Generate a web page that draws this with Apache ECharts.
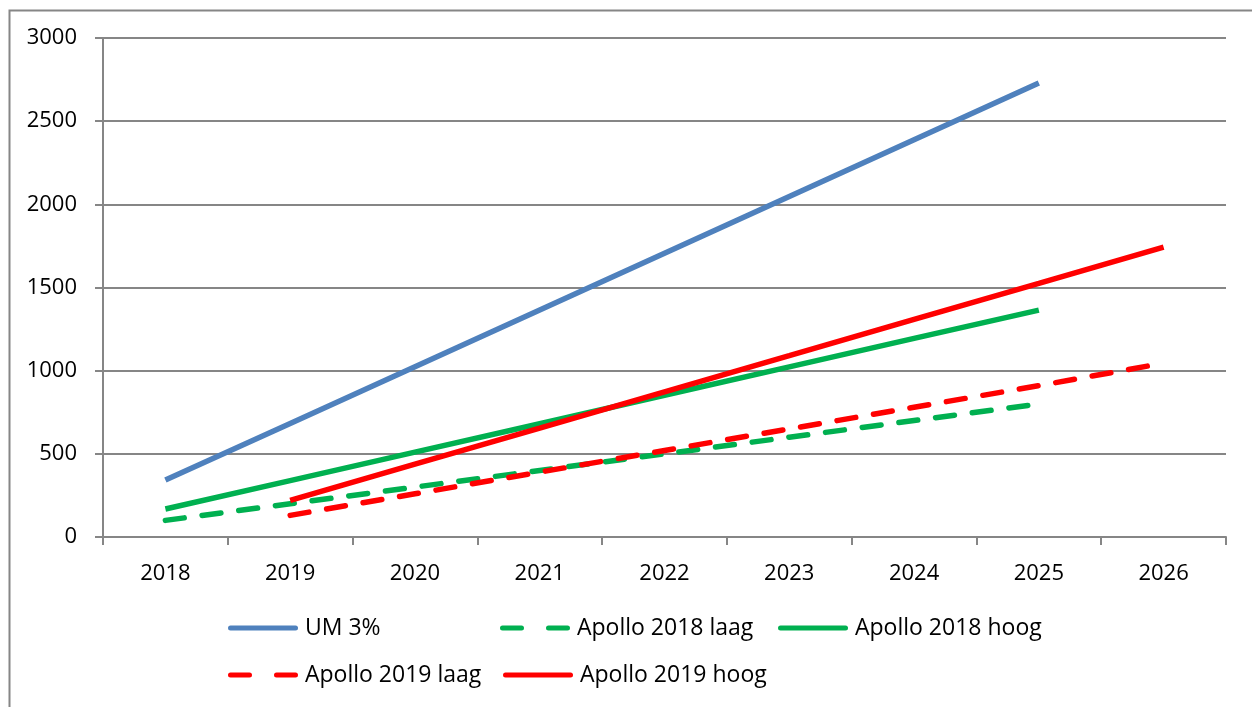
<!DOCTYPE html>
<html>
<head>
<meta charset="utf-8">
<script src="https://cdn.jsdelivr.net/npm/echarts@6/dist/echarts.min.js"></script>
<style>
  html, body { margin: 0; padding: 0; background: #fff; }
  #chart { width: 1252px; height: 707px; }
</style>
</head>
<body>
<div id="chart"></div>
<script>
// Years on the category axis
const years = ['2018', '2019', '2020', '2021', '2022', '2023', '2024', '2025', '2026'];

// Series values per year (null = no value for that year)
const um3 = [342, 683, 1024, 1365, 1706, 2047, 2388, 2729, null];
const apollo2018Laag = [100, 200, 300, 400, 500, 600, 700, 800, null];
const apollo2018Hoog = [168, 339, 510, 681, 852, 1023, 1194, 1364, null];
const apollo2019Laag = [null, 130, 260, 390, 520, 650, 780, 910, 1045];
const apollo2019Hoog = [null, 220, 438, 655, 873, 1090, 1308, 1525, 1743];

const seriesNames = ['UM 3%', 'Apollo 2018 laag', 'Apollo 2018 hoog', 'Apollo 2019 laag', 'Apollo 2019 hoog'];
const seriesData = [um3, apollo2018Laag, apollo2018Hoog, apollo2019Laag, apollo2019Hoog];
const seriesColors = ['#4F81BD', '#00B050', '#00B050', '#FF0000', '#FF0000'];
const seriesDashed = [false, true, false, true, false];

const FONT = '"Open Sans", Lato, sans-serif';
const FONT_SIZE = 22;
const LEGEND_FONT_SIZE = 23;
const DASH = [19, 18];

// Legend keys: a rounded bar, or two rounded dashes, in a 70 x 5 box
const ICON_SOLID = 'path://M2.5,0h65a2.5,2.5 0 0 1 0,5h-65a2.5,2.5 0 0 1 0,-5z';
const ICON_DASHED = 'path://M2.5,0h19a2.5,2.5 0 0 1 0,5h-19a2.5,2.5 0 0 1 0,-5z' +
                    'M48.5,0h19a2.5,2.5 0 0 1 0,5h-19a2.5,2.5 0 0 1 0,-5z';

const chart = echarts.init(document.getElementById('chart'), null, { renderer: 'canvas' });

// One legend block per entry so each can sit at its own spot
const legendSpots = [
  { left: 228, top: 612 },
  { left: 500, top: 612 },
  { left: 778, top: 612 },
  { left: 228, top: 659 },
  { left: 503, top: 659 }
];

const legends = seriesNames.map((name, i) => ({
  data: [{ name: name, icon: seriesDashed[i] ? ICON_DASHED : ICON_SOLID }],
  left: legendSpots[i].left,
  top: legendSpots[i].top,
  itemWidth: 70,
  itemHeight: 5,
  itemGap: 0,
  itemStyle: { color: seriesColors[i], borderWidth: 0 },
  textStyle: {
    fontFamily: FONT, fontSize: LEGEND_FONT_SIZE, color: '#000',
    lineHeight: 32, height: 32, padding: [0, 0, 0, 2]
  },
  selectedMode: false,
  padding: 0
}));

const series = seriesNames.map((name, i) => ({
  name: name,
  type: 'line',
  data: seriesData[i],
  symbol: 'none',
  showSymbol: false,
  connectNulls: false,
  animation: false,
  color: seriesColors[i],
  lineStyle: {
    width: 5.5,
    color: seriesColors[i],
    type: seriesDashed[i] ? DASH : 'solid',
    cap: seriesDashed[i] ? 'round' : 'butt'
  },
  emphasis: { disabled: true }
}));

chart.setOption({
  animation: false,
  backgroundColor: '#fff',
  legend: legends,
  grid: { left: 103, right: 26, top: 38, bottom: 170, containLabel: false },
  xAxis: {
    type: 'category',
    data: years,
    boundaryGap: true,
    axisLine: { show: true, lineStyle: { color: '#868686', width: 2 } },
    axisTick: { show: true, alignWithLabel: false, length: 8, lineStyle: { color: '#868686', width: 2 } },
    axisLabel: { fontFamily: FONT, fontSize: FONT_SIZE, color: '#000', margin: 26 },
    splitLine: { show: false }
  },
  yAxis: {
    type: 'value',
    min: 0,
    max: 3000,
    interval: 500,
    axisLine: { show: true, lineStyle: { color: '#868686', width: 2 } },
    axisTick: { show: true, length: 8, lineStyle: { color: '#868686', width: 2 } },
    axisLabel: {
      fontFamily: FONT, fontSize: FONT_SIZE, color: '#000', margin: 26,
      formatter: (v) => String(v)
    },
    splitLine: { show: true, lineStyle: { color: '#868686', width: 2 } }
  },
  graphic: [
    {
      type: 'rect',
      left: 7,
      top: 8,
      shape: { width: 1300, height: 760 },
      style: { fill: 'none', stroke: '#868686', lineWidth: 2 },
      silent: true,
      z: -1
    }
  ],
  series: series
});
</script>
</body>
</html>
